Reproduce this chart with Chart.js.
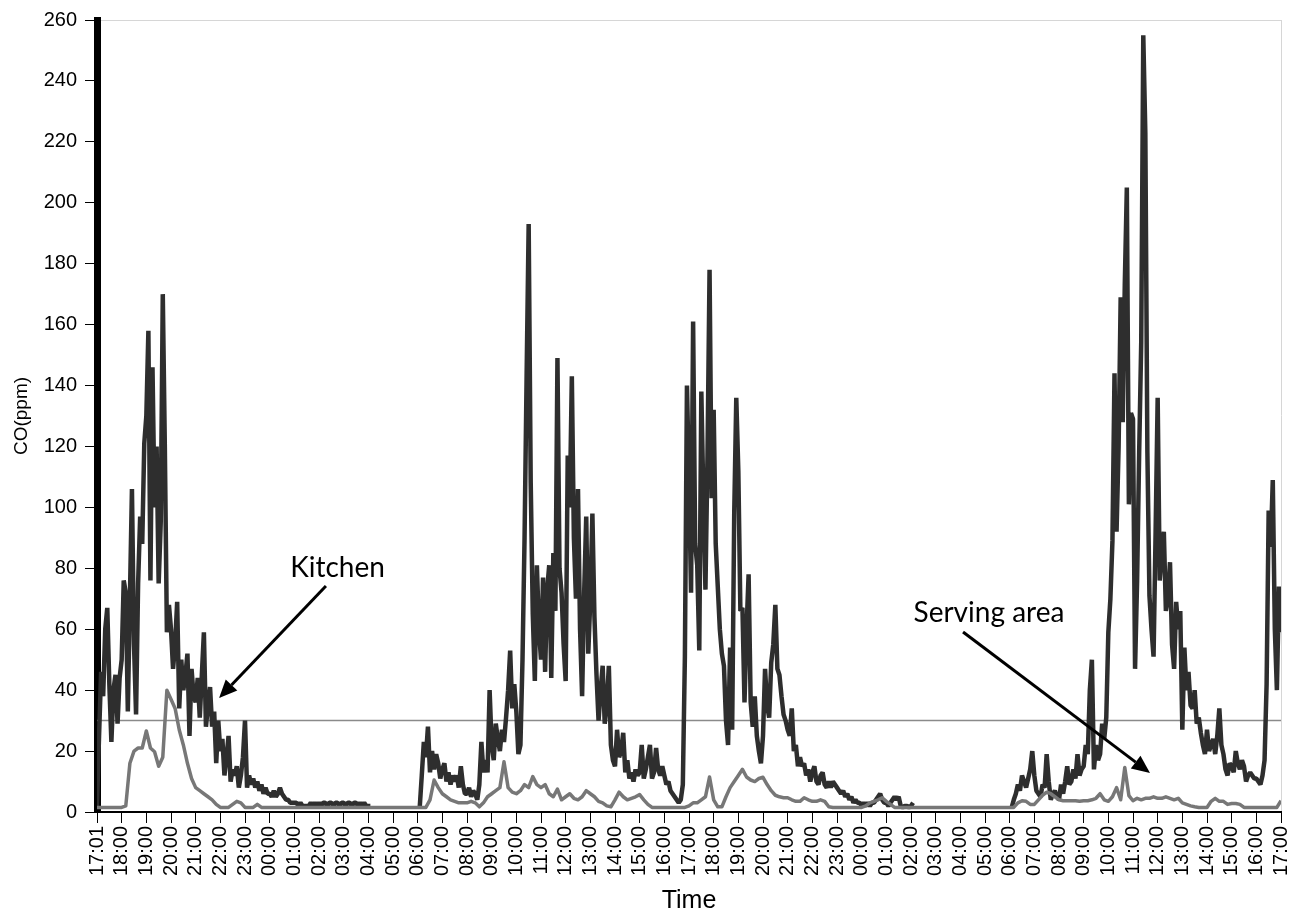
<!DOCTYPE html>
<html>
<head>
<meta charset="utf-8">
<script src="https://cdn.jsdelivr.net/npm/chart.js@4.4.0/dist/chart.umd.min.js"></script>
<style>
  html, body { margin: 0; padding: 0; background: #fff; }
  #wrap { width: 1290px; height: 917px; }
</style>
</head>
<body>
<div id="wrap"><canvas id="coChart"></canvas></div>
<script>
// kitchen logged every 5 minutes, serving area every 10 minutes, from 17:01
var kitchenStep = 1 / 12;
var servingStep = 1 / 6;

var tickLabels = [
  '17:01', '18:00', '19:00', '20:00', '21:00', '22:00', '23:00',
  '00:00', '01:00', '02:00', '03:00', '04:00', '05:00', '06:00', '07:00', '08:00',
  '09:00', '10:00', '11:00', '12:00', '13:00', '14:00', '15:00', '16:00',
  '17:00', '18:00', '19:00', '20:00', '21:00', '22:00', '23:00',
  '00:00', '01:00', '02:00', '03:00', '04:00', '05:00', '06:00', '07:00', '08:00',
  '09:00', '10:00', '11:00', '12:00', '13:00', '14:00', '15:00', '16:00', '17:00'
];

var kitchenCO = [
  2, 25, 46, 38, 60, 67, 42, 23, 40, 45, 29, 44,            // 17:01
  50, 76, 72, 33, 70, 106, 55, 32, 75, 97, 88, 121,         // 18:00
  130, 158, 76, 146, 100, 120, 75, 95, 170, 120, 59, 68,    // 19:00
  60, 47, 55, 69, 34, 50, 40, 45, 52, 25, 47, 38,           // 20:00
  36, 44, 31, 45, 59, 28, 35, 41, 28, 33, 16, 30,           // 21:00
  20, 24, 12, 18, 25, 10, 14, 12, 15, 8, 12, 18,            // 22:00
  30, 8, 12, 9, 11, 8, 10, 7, 9, 6, 8, 6,                   // 23:00
  6, 5, 7, 5, 6, 8, 6, 5, 4, 4, 3, 3,                       // 00:00
  3, 3, 2, 3, 2, 2, 2, 2, 3, 2, 3, 2,                       // 01:00
  3, 2, 3, 3, 2, 3, 3, 2, 3, 3, 2, 3,                       // 02:00
  3, 2, 3, 3, 2, 3, 3, 2, 3, 2, 3, 2,                       // 03:00
  2, 2, null, null, null, null, null, null, null, null, null, null, // 04:00
  null, null, null, null, null, null, null, null, null, null, null, null, // 05:00
  null, 1.5, 12, 23, 18, 28, 13, 20, 14, 19, 16, 11,        // 06:00
  14, 16, 10, 13, 9, 12, 10, 12, 8, 15, 9, 6,               // 07:00
  6, 8, 5, 7, 6, 4, 9, 23, 13, 17, 13, 40,                  // 08:00
  22, 17, 29, 24, 20, 27, 23, 31, 40, 53, 34, 42,           // 09:00
  33, 19, 22, 50, 90, 143, 193, 108, 65, 43, 81, 60,        // 10:00
  50, 77, 46, 73, 81, 44, 85, 66, 149, 80, 72, 55,          // 11:00
  43, 117, 100, 143, 90, 70, 106, 60, 38, 72, 97, 52,       // 12:00
  70, 98, 64, 45, 30, 40, 48, 29, 35, 48, 22, 17,           // 13:00
  15, 27, 18, 20, 26, 13, 17, 11, 13, 10, 14, 12,           // 14:00
  13, 22, 11, 14, 18, 22, 11, 13, 21, 14, 12, 15,           // 15:00
  12, 9, 10, 7, 6, 5, 4, 3, 4, 9, 51, 140,                  // 16:00
  109, 72, 161, 88, 81, 53, 138, 103, 73, 117, 178, 103,    // 17:00
  132, 88, 74, 60, 52, 48, 30, 22, 54, 27, 98, 136,         // 18:00
  112, 66, 67, 36, 60, 78, 36, 28, 38, 25, 20, 16,          // 19:00
  25, 47, 35, 31, 49, 55, 68, 47, 45, 38, 32, 30,           // 20:00
  27, 25, 34, 20, 22, 15, 18, 15, 16, 12, 14, 10,           // 21:00
  13, 15, 10, 9, 12, 13, 9, 8, 10, 8, 10, 9,                // 22:00
  8, 7, 6, 7, 5, 6, 4, 5, 3, 4, 3, 3,                       // 23:00
  2, 3, 2, 3, 2, 3, 3, 4, 5, 6, 4, 3,                       // 00:00
  3, 2, 3, 4, 5, 4, 5, 2, 1.5, 2, 2, 1.5,                   // 01:00
  2, 3, null, null, null, null, null, null, null, null, null, null, // 02:00
  null, null, null, null, null, null, null, null, null, null, null, null, // 03:00
  null, null, null, null, null, null, null, null, null, null, null, null, // 04:00
  null, null, null, null, null, null, null, null, null, null, null, null, // 05:00
  null, 1.5, 4, 6, 9, 7, 12, 10, 8, 11, 14, 20,             // 06:00
  12, 7, 6, 5, 9, 8, 19, 10, 4, 6, 7, 5,                    // 07:00
  4, 9, 6, 10, 15, 9, 10, 14, 11, 19, 12, 14,               // 08:00
  15, 22, 19, 40, 50, 14, 22, 17, 19, 29, 24, 31,           // 09:00
  59, 70, 89, 144, 92, 120, 169, 128, 173, 205, 101, 131,   // 10:00
  129, 47, 76, 118, 154, 255, 223, 118, 71, 60, 51, 92,     // 11:00
  136, 76, 85, 92, 66, 70, 82, 55, 47, 69, 60, 66,          // 12:00
  27, 54, 40, 46, 35, 34, 40, 29, 31, 26, 22, 19,           // 13:00
  27, 20, 22, 24, 19, 25, 34, 22, 19, 14, 12, 16,           // 14:00
  15, 13, 20, 16, 14, 17, 15, 10, 12, 13, 12, 11,           // 15:00
  11, 10, 9, 12, 17, 42, 99, 87, 109, 60, 40, 74,           // 16:00
  59                                                        // 17:00
];

var servingCO = [
  1.5, 1.5, 1.5, 1.5, 1.5, 1.5,   // 17:01
  1.5, 2, 16, 20, 21, 21,         // 18:00
  26.6, 21, 19.8, 15, 18, 40,     // 19:00
  37, 34, 27, 22, 16, 11,         // 20:00
  8, 7, 6, 5, 4, 2.5,             // 21:00
  1.5, 1.5, 1.5, 2.5, 3.5, 3,     // 22:00
  1.5, 1.5, 1.5, 2.5, 1.5, 1.5,   // 23:00
  1.5, 1.5, 1.5, 1.5, 1.5, 1.5,   // 00:00
  1.5, 1.5, 1.5, 1.5, 1.5, 1.5,   // 01:00
  1.5, 1.5, 1.5, 1.5, 1.5, 1.5,   // 02:00
  1.5, 1.5, 1.5, 1.5, 1.5, 1.5,   // 03:00
  1.5, 1.5, 1.5, 1.5, 1.5, 1.5,   // 04:00
  1.5, 1.5, 1.5, 1.5, 1.5, 1.5,   // 05:00
  1.5, 1.5, 1.5, 4, 10.5, 8,      // 06:00
  6, 5, 4, 3.5, 3, 3,             // 07:00
  3, 3.5, 3, 1.7, 3, 5,           // 08:00
  6, 7, 8, 16.5, 8, 6.5,          // 09:00
  6, 7, 9, 8, 11.6, 9,            // 10:00
  8, 9, 6, 5, 7.5, 4,             // 11:00
  5, 6, 4.5, 4, 5, 7,             // 12:00
  6, 5, 3.5, 3, 2, 1.7,           // 13:00
  4, 6.5, 5, 4, 4.5, 5,           // 14:00
  5.7, 4, 2.5, 1.5, 1.5, 1.5,     // 15:00
  1.5, 1.5, 1.5, 1.5, 1.5, 1.5,   // 16:00
  2, 3, 3, 4, 5, 11.5,            // 17:00
  4, 1.7, 1.7, 5, 8, 10,          // 18:00
  12, 14, 11.5, 10.5, 10, 11,     // 19:00
  11.4, 9, 7, 5.5, 5, 4.7,        // 20:00
  4.7, 4, 3.5, 3.5, 4.7, 4,       // 21:00
  3.5, 3.5, 4, 3.5, 1.7, 1.5,     // 22:00
  1.5, 1.5, 1.5, 1.5, 1.5, 1.5,   // 23:00
  1.5, 2, 3, 3.5, 4, 4.7,         // 00:00
  3.5, 2.5, 1.5, 1.5, 1.5, 1.5,   // 01:00
  1.5, 1.5, 1.5, 1.5, 1.5, 1.5,   // 02:00
  1.5, 1.5, 1.5, 1.5, 1.5, 1.5,   // 03:00
  1.5, 1.5, 1.5, 1.5, 1.5, 1.5,   // 04:00
  1.5, 1.5, 1.5, 1.5, 1.5, 1.5,   // 05:00
  1.5, 1.5, 3, 3.7, 3.5, 2.5,     // 06:00
  2.5, 4, 5.5, 6.5, 6, 5,         // 07:00
  4, 3.7, 3.7, 3.7, 3.7, 3.5,     // 08:00
  3.7, 3.7, 4, 4.5, 6, 4,         // 09:00
  3.5, 5, 8, 4, 14.6, 5.4,        // 10:00
  3.7, 4.5, 4, 4.5, 4.5, 5,       // 11:00
  4.5, 4.5, 5, 4.5, 4, 4.5,       // 12:00
  3, 2.5, 2, 1.7, 1.5, 1.5,       // 13:00
  1.5, 3.5, 4.5, 3.5, 3.5, 2.5,   // 14:00
  2.8, 2.8, 2.5, 1.5, 1.5, 1.5,   // 15:00
  1.5, 1.5, 1.5, 1.5, 1.5, 1.5,   // 16:00
  3.7                             // 17:00
];

var limitCO = 30;

function toPoints(values, step) {
  return values.map(function(v, i) { return { x: i * step, y: v }; });
}

// arrows and labels, placed in data units (hours, ppm)
var callouts = [
  { text: 'Kitchen', at: [9.75, 77], from: [9.28, 74.2], to: [4.95, 37.4] },
  { text: 'Serving area', at: [36.16, 62.4], from: [35.11, 59.1], to: [42.69, 12.8] }
];

var calloutPlugin = {
  id: 'callouts',
  afterDatasetsDraw: function(chart) {
    var ctx = chart.ctx, xs = chart.scales.x, ys = chart.scales.y;
    ctx.save();
    callouts.forEach(function(c) {
      var x1 = xs.getPixelForValue(c.from[0]), y1 = ys.getPixelForValue(c.from[1]);
      var x2 = xs.getPixelForValue(c.to[0]), y2 = ys.getPixelForValue(c.to[1]);
      var a = Math.atan2(y2 - y1, x2 - x1);
      var head = 18, half = 8;
      var bx = x2 - head * Math.cos(a), by = y2 - head * Math.sin(a);
      ctx.strokeStyle = '#000';
      ctx.lineWidth = 3;
      ctx.beginPath();
      ctx.moveTo(x1, y1);
      ctx.lineTo(bx, by);
      ctx.stroke();
      ctx.fillStyle = '#000';
      ctx.beginPath();
      ctx.moveTo(x2, y2);
      ctx.lineTo(bx + half * Math.sin(a), by - half * Math.cos(a));
      ctx.lineTo(bx - half * Math.sin(a), by + half * Math.cos(a));
      ctx.closePath();
      ctx.fill();
      ctx.font = '28px Lato';
      ctx.textAlign = 'center';
      ctx.textBaseline = 'alphabetic';
      ctx.fillText(c.text, xs.getPixelForValue(c.at[0]), ys.getPixelForValue(c.at[1]));
    });
    ctx.restore();
  }
};

var ctx = document.getElementById('coChart').getContext('2d');
var myChart = new Chart(ctx, {
  type: 'line',
  data: {
    datasets: [
      {
        label: 'Serving area',
        data: toPoints(servingCO, servingStep),
        borderColor: '#777777',
        borderWidth: 3.5,
        pointRadius: 0,
        borderJoinStyle: 'round',
        order: 1
      },
      {
        label: 'Kitchen',
        data: toPoints(kitchenCO, kitchenStep),
        borderColor: '#2e2e2e',
        borderWidth: 4.5,
        pointRadius: 0,
        borderJoinStyle: 'bevel',
        spanGaps: false,
        order: 2
      },
      {
        label: 'Limit',
        data: [{ x: 0, y: limitCO }, { x: tickLabels.length - 1, y: limitCO }],
        borderColor: '#8a8a8a',
        borderWidth: 1.5,
        pointRadius: 0,
        order: 3
      }
    ]
  },
  options: {
    responsive: true,
    maintainAspectRatio: false,
    animation: false,
    devicePixelRatio: 1,
    layout: { padding: { top: 20, right: 9, left: 0, bottom: 0 } },
    plugins: {
      legend: { display: false },
      tooltip: { enabled: false }
    },
    scales: {
      x: {
        type: 'linear',
        min: 0,
        max: tickLabels.length - 1,
        afterFit: function(scale) {
          scale.height = 105;
          scale.paddingLeft = 0;
          scale.paddingRight = 0;
        },
        ticks: {
          stepSize: 1,
          autoSkip: false,
          minRotation: 90,
          maxRotation: 90,
          padding: 3,
          color: '#000',
          font: { family: 'Liberation Sans', size: 20 },
          callback: function(v) { return tickLabels[v]; }
        },
        grid: {
          color: function(c) { return c.tick && c.tick.value === tickLabels.length - 1 ? '#d6d6d6' : 'rgba(0,0,0,0)'; },
          tickColor: '#000',
          tickLength: 11,
          lineWidth: 1
        },
        border: { color: '#000', width: 2 },
        title: {
          display: true,
          text: 'Time',
          color: '#000',
          padding: { top: 0, bottom: 1 },
          font: { family: 'Liberation Sans', size: 25 }
        }
      },
      y: {
        min: 0,
        max: 260,
        afterFit: function(scale) { scale.width = 97; },
        ticks: {
          stepSize: 20,
          padding: 8,
          color: '#000',
          font: { family: 'Liberation Sans', size: 20 }
        },
        grid: {
          color: function(c) { return c.tick && c.tick.value === 260 ? '#d6d6d6' : 'rgba(0,0,0,0)'; },
          tickColor: '#000',
          tickLength: 12,
          lineWidth: 1
        },
        border: { color: '#000', width: 7 },
        title: {
          display: true,
          text: 'CO(ppm)',
          color: '#000',
          padding: { top: 10, bottom: 0 },
          font: { family: 'Liberation Sans', size: 19 }
        }
      }
    }
  },
  plugins: [calloutPlugin]
});
</script>
</body>
</html>
